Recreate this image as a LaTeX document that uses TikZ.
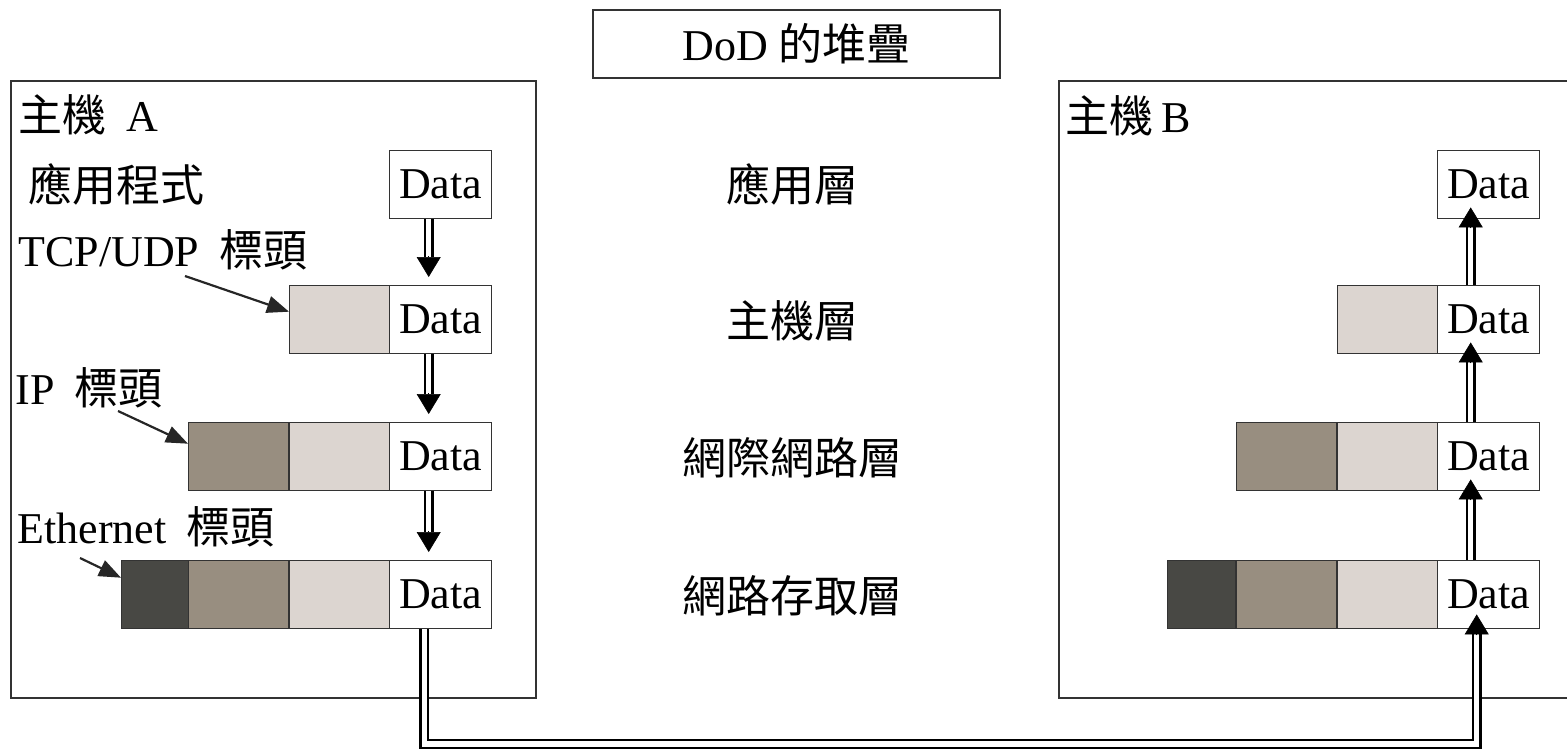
\documentclass[tikz,border=0pt]{standalone}
\usepackage{fontspec}
\setmainfont{Liberation Serif}
\newfontfamily\cjk{Noto Sans CJK TC}
\usetikzlibrary{arrows.meta,calc}
\definecolor{hlight}{RGB}{220,213,208}
\definecolor{hmid}{RGB}{152,142,128}
\definecolor{hdark}{RGB}{72,72,68}
\begin{document}
\begin{tikzpicture}[x=0.5pt,y=-0.5pt,
  font=\fontsize{22}{26}\selectfont,
  frame/.style={draw=black!80, line width=0.8pt},
  cell/.style={draw=black!80, line width=0.7pt, minimum height=34pt, inner sep=0pt, anchor=north west},
  databox/.style={cell, fill=white, minimum width=51pt},
  hdrlight/.style={cell, fill=hlight, minimum width=50pt},
  hdrmid/.style={cell, fill=hmid, minimum width=50pt},
  hdrdark/.style={cell, fill=hdark, minimum width=34pt},
  lbl/.style={anchor=west, inner sep=0pt},
  layer/.style={inner sep=0pt},
  dbl/.style={draw=black, line width=1.3pt, double=white, double distance=2.6pt},
  bighead/.style={draw=black, line width=0.3pt, -{Triangle[length=10pt,width=12pt]}},
  pointer/.style={draw=black!85, line width=1.1pt, -{Triangle[length=11pt,width=8.5pt]}}
]
\useasboundingbox (0,0) rectangle (1567,749);

% frames
\node[frame, minimum width=203.5pt, minimum height=34pt, inner sep=0pt] (title) at (796.5,44) {DoD\hspace{5pt}{\cjk 的堆疊}};
\node[frame, anchor=north west, minimum width=262.5pt, minimum height=308.5pt, inner sep=0pt] (hostA) at (10,80) {};
\node[frame, anchor=north west, minimum width=262.5pt, minimum height=308.5pt, inner sep=0pt] (hostB) at (1058,80) {};

% host A labels
\node[lbl] (lA) at (18,115) {{\cjk 主機}\hspace{10pt}A};
\node[lbl] (lApp) at (28,184) {\cjk 應用程式};
\node[lbl] (lTcp) at (18,250) {TCP/UDP\hspace{10pt}{\cjk 標頭}};
\node[lbl] (lIp) at (15,388) {IP\hspace{10pt}{\cjk 標頭}};
\node[lbl] (lEth) at (17,527) {Ethernet\hspace{10pt}{\cjk 標頭}};
\node[lbl] (lB) at (1065,116) {{\cjk 主機}\hspace{4pt}B};

% middle layer labels
\node[layer] (m1) at (792,184) {\cjk 應用層};
\node[layer] (m2) at (792,321) {\cjk 主機層};
\node[layer] (m3) at (792,458) {\cjk 網際網路層};
\node[layer] (m4) at (792,596) {\cjk 網路存取層};

% host A stacks
\node[databox] (a1) at (389,150) {Data};
\node[hdrlight] (a2h) at (289,285) {};
\node[databox] (a2) at (389,285) {Data};
\node[hdrmid] (a3m) at (188,422) {};
\node[hdrlight] (a3h) at (289,422) {};
\node[databox] (a3) at (389,422) {Data};
\node[hdrdark] (a4d) at (121,560) {};
\node[hdrmid] (a4m) at (188,560) {};
\node[hdrlight] (a4h) at (289,560) {};
\node[databox] (a4) at (389,560) {Data};

% host B stacks
\node[databox] (b1) at (1437,150) {Data};
\node[hdrlight] (b2h) at (1337,285) {};
\node[databox] (b2) at (1437,285) {Data};
\node[hdrmid] (b3m) at (1236,422) {};
\node[hdrlight] (b3h) at (1337,422) {};
\node[databox] (b3) at (1437,422) {Data};
\node[hdrdark] (b4d) at (1167,560) {};
\node[hdrmid] (b4m) at (1236,560) {};
\node[hdrlight] (b4h) at (1337,560) {};
\node[databox] (b4) at (1437,560) {Data};

% host A downward arrows
\foreach \s/\t in {a1/a2, a2/a3, a3/a4}{
  \draw[dbl] ([xshift=-6pt]\s.south) -- ([xshift=-6pt,yshift=14pt]\t.north);
  \draw[bighead] ([xshift=-6pt,yshift=14.5pt]\t.north) -- ([xshift=-6pt,yshift=4pt]\t.north);
}

% host B upward arrows
\foreach \s/\t in {b2/b1, b3/b2, b4/b3}{
  \draw[dbl] ([xshift=-9pt]\s.north) -- ([xshift=-9pt,yshift=-4pt]\t.south);
  \draw[bighead] ([xshift=-9pt,yshift=-4.5pt]\t.south) -- ([xshift=-9pt,yshift=6pt]\t.south);
}

% bottom connector
\coordinate (low) at (0,744);
\coordinate (aout) at ([xshift=-8.25pt]a4.south);
\coordinate (bin) at ([xshift=-6pt]b4.south);
\draw[dbl] (aout) -- (aout |- low) -- (bin |- low) -- ([yshift=-2.5pt]bin);
\draw[bighead] ([yshift=-3pt]bin) -- ([yshift=7.5pt]bin);

% header pointers
\coordinate (p1) at (185,276);
\coordinate (p2) at (118,411);
\coordinate (p3) at (80,558);
\draw[pointer] (p1) -- ([yshift=4pt]a2h.west);
\draw[pointer] (p2) -- ([yshift=6.5pt]a3m.west);
\draw[pointer] (p3) -- ([yshift=8.5pt]a4d.west);
\end{tikzpicture}
\end{document}
